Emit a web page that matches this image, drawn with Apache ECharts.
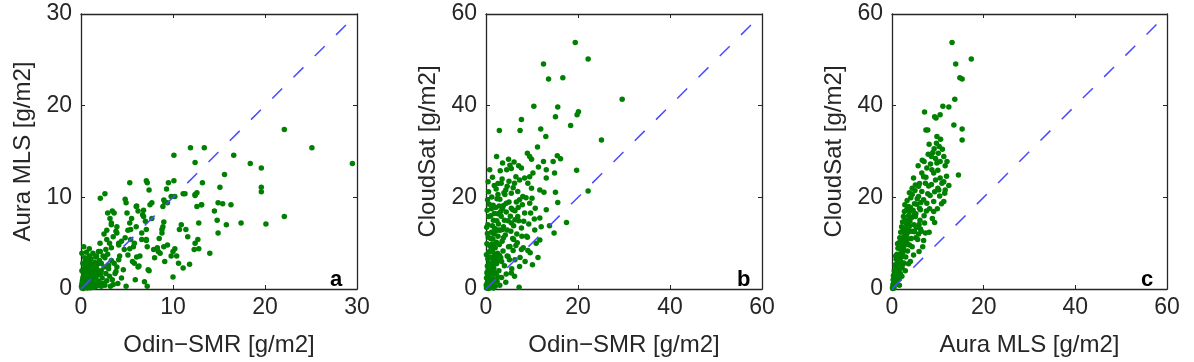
<!DOCTYPE html>
<html>
<head>
<meta charset="utf-8">
<script src="https://cdn.jsdelivr.net/npm/echarts@6/dist/echarts.min.js"></script>
<style>html,body{margin:0;padding:0;background:#fff}#chart{width:1194px;height:362px}</style>
</head>
<body>
<div id="chart"></div>
<script>
// Panel a: Odin-SMR (x) vs Aura MLS (y), g/m2
const pointsA = [
[29.5,13.7],[25.1,15.4],[22.1,17.4],[22.1,7.9],[20.1,7.1],[19.6,13.2],[19.6,11.1],[19.6,10.6],[18.4,13.7],[17.4,7.2],
[16.6,14.6],[16.3,9.2],[15.8,7.0],[15.6,12.5],[15.4,9.3],[15.1,11.1],[14.9,9.4],[14.8,7.5],[14.9,6.1],[14.5,8.5],
[14.0,3.9],[13.4,15.4],[13.2,11.6],[13.1,9.2],[12.8,7.2],[12.7,5.4],[12.8,4.4],[12.6,10.5],[12.6,9.0],[12.4,10.2],
[12.4,13.8],[11.9,15.4],[12.3,4.3],[11.8,2.7],[11.6,5.7],[11.4,6.5],[11.3,10.4],[11.1,10.4],[11.1,2.3],[10.9,7.0],
[10.7,6.5],[10.6,2.8],[10.4,3.6],[10.1,14.6],[10.1,11.8],[10.0,1.3],[10.0,4.1],[9.8,3.6],[9.8,10.1],[9.5,11.6],
[9.3,10.9],[9.4,9.4],[9.0,9.7],[8.9,9.0],[8.9,6.8],[8.8,6.1],[9.0,4.6],[9.4,4.8],[9.0,7.3],[8.8,6.5],
[8.6,3.9],[8.3,4.5],[8.0,3.4],[7.9,4.3],[7.7,9.4],[7.5,9.2],[7.4,10.8],[7.2,11.6],[7.1,11.8],[7.0,7.4],
[7.1,6.5],[7.1,5.4],[7.2,4.6],[7.4,2.0],[7.2,0.3],[6.9,0.8],[6.8,8.6],[6.7,8.1],[6.6,5.4],[6.4,3.6],
[6.3,2.5],[6.2,8.5],[6.0,9.0],[6.0,6.8],[5.8,5.0],[5.7,4.6],[5.8,2.8],[5.5,7.7],[5.3,11.6],[5.3,7.2],
[5.4,6.5],[5.4,5.4],[5.1,3.7],[4.9,9.4],[5.0,8.3],[4.8,5.6],[4.7,4.3],[4.9,0.3],[4.6,2.1],[4.4,5.2],
[4.2,3.6],[4.1,5.0],[3.9,6.8],[3.8,6.3],[3.6,8.3],[3.5,5.7],[3.4,8.5],[3.3,7.2],[3.3,4.5],[3.1,5.0],
[2.9,8.3],[2.8,5.4],[2.7,4.3],[2.6,10.4],[2.1,9.9],[2.4,3.6],[2.2,2.8],[2.6,0.4],[1.7,3.6],
[4.8,9.8],[6.05,9.05],[9.1,9.5],[10.2,10.1],[12.4,10.3],[13.1,9.2],[7.7,7.7],[6.8,7.9],[5.1,6.4],[3.9,6.1],
[3.15,7.7],[3.3,7.0],[2.8,6.4],[2.07,5.0],[1.9,4.1],[4.1,4.8],[5.3,4.4],[6.05,3.5],[7.1,5.3],[8.4,4.1],
[9.1,3.0],[10.2,4.4],[7.3,2.1],[5.9,1.0],[3.7,1.7],[3.0,2.6],[4.1,3.2],[6.2,2.4],[12.4,5.0],[5.6,3.0],
[4.4,1.2],[3.5,0.5],[8.5,5.5],[6.6,6.1],[2.5,6.0],[3.9,2.4],
[0.1,0.1],[0.2,0.3],[0.3,0.1],[0.4,0.5],[0.5,0.2],[0.6,0.8],[0.7,0.4],[0.8,1.1],[0.9,0.3],[1.0,0.7],
[1.1,1.4],[1.2,0.5],[1.3,1.0],[1.4,1.8],[1.5,0.6],[1.6,1.3],[1.7,2.2],[1.8,0.9],[1.9,1.6],[2.0,0.4],
[0.2,1.2],[0.3,2.0],[0.4,1.5],[0.5,2.6],[0.6,1.9],[0.7,3.1],[0.8,2.4],[0.9,3.6],[1.0,2.8],[1.1,3.3],
[0.1,0.6],[0.2,0.8],[0.3,1.6],[0.4,2.3],[0.5,3.0],[0.6,4.0],[0.3,4.6],[0.9,4.4],[1.2,2.5],[1.3,3.9],
[1.5,2.9],[1.6,3.5],[1.8,2.7],[2.0,3.1],[2.2,2.0],[2.3,1.2],[2.4,0.6],[2.5,2.4],[2.7,1.7],[2.8,0.9],
[3.0,2.2],[3.1,1.4],[3.2,0.3],[2.1,4.1],[2.6,3.4],[1.4,0.2],[1.7,0.5],[0.7,0.1],[0.05,0.3],[0.15,0.9],
[0.25,0.05],[0.35,0.7],[0.45,1.0],[0.55,1.3],[0.65,0.2],[0.75,1.6],[0.85,0.6],[0.95,1.9],[1.05,0.15],[1.15,2.1],
[1.25,1.2],[1.35,0.4],[1.45,2.3],[1.55,1.1],[1.65,0.3],[1.75,1.5],[1.85,2.0],[1.95,0.8],[2.1,1.6],[2.2,0.3],
[3.4,1.0],[3.6,2.8],[3.8,1.9],[4.0,0.6],[2.9,3.8],[3.3,3.1],[0.1,2.0],[0.2,2.8],[0.4,3.4],[0.1,3.9]
];

// Panel b: Odin-SMR (x) vs CloudSat (y), g/m2
const pointsB = [
[19.4,53.8],[22.2,50.2],[12.5,49.1],[13.6,45.8],[16.7,46.1],[29.6,41.4],[10.4,39.9],[15.6,39.7],[20.1,38.7],[19.8,38.0],
[15.1,37.6],[7.7,37.0],[18.4,35.7],[2.9,34.6],[7.4,34.6],[11.9,34.9],[13.0,33.3],[25.1,32.5],[11.2,31.0],[9.0,29.6],
[9.5,28.9],[15.5,29.1],[16.2,28.4],[14.6,27.8],[9.9,28.3],[12.5,27.8],[3.6,27.5],[5.2,27.0],[5.5,26.3],[7.1,26.9],
[7.7,26.4],[11.4,26.6],[13.1,26.0],[19.7,25.9],[14.9,25.3],[10.2,25.3],[9.5,24.5],[8.4,24.2],[7.3,23.8],[13.1,24.2],
[9.1,23.1],[4.6,22.4],[6.2,23.1],[9.9,22.0],[11.7,21.6],[12.6,21.1],[15.1,21.1],[22.2,21.4],[2.6,20.6],[4.1,20.6],
[5.5,20.9],[6.9,21.3],[7.3,19.5],[9.5,18.7],[10.7,17.6],[13.1,17.3],[15.6,18.9],[3.2,16.9],[4.4,18.7],[5.5,17.6],
[8.4,16.6],[9.7,16.6],[6.9,15.8],[11.7,15.5],[17.5,14.5],[13.8,13.8],[14.8,12.2],[10.6,12.9],[7.7,13.3],[5.5,14.4],
[2.2,12.9],[8.8,11.5],[11.7,10.7],[10.9,10.0],[9.1,8.4],[7.7,8.6],[11.3,6.9],[10.1,5.3],[7.3,4.9],[7.2,0.4],
[6.2,2.8],[5.5,3.5],[4.8,7.1],
[6.5,9.5],[7.8,11.5],[8.5,6.0],[9.6,7.9],[6.0,13.8],[7.0,17.8],[5.0,23.5],[8.0,20.2],[4.5,26.0],[6.5,24.5],
[3.5,24.0],[4.0,15.0],[5.8,11.0],[4.9,9.2],[6.3,6.4],[8.2,14.8],[10.0,19.8],[3.8,18.2],[6.6,19.0],[12.0,13.6],
[3.4,6.0],[4.4,3.3],[5.1,6.4],[5.9,8.4],[6.8,10.1],[7.4,6.9],[8.1,9.0],[9.0,11.3],[3.8,11.2],[4.6,12.9],
[5.3,15.9],[6.3,17.1],[7.1,14.9],[7.9,18.4],[8.7,19.9],[4.3,21.6],[5.9,22.1],[2.6,23.0],[3.1,25.8],[1.4,24.4],
[4.9,28.3],[6.1,27.7],[2.3,28.9],[0.8,26.0],[3.6,13.0],[2.4,19.7],[1.2,17.5],[6.7,12.0],[9.3,14.2],[10.5,15.3],
[0.1,0.2],[0.2,0.8],[0.3,1.5],[0.4,0.4],[0.5,2.2],[0.6,1.0],[0.7,3.0],[0.8,0.3],[0.9,1.8],[1.0,4.1],
[1.1,2.6],[1.2,0.9],[1.3,5.2],[1.4,3.4],[1.5,1.4],[1.6,6.3],[1.7,4.5],[1.8,2.1],[1.9,7.4],[2.0,0.6],
[0.2,3.6],[0.3,5.0],[0.4,6.6],[0.5,4.3],[0.6,8.1],[0.7,5.7],[0.8,9.5],[0.9,7.0],[1.0,11.0],[1.1,8.6],
[1.2,12.4],[1.3,9.8],[1.4,13.8],[1.5,10.9],[1.6,15.0],[1.7,12.0],[1.8,16.5],[1.9,13.2],[2.0,9.0],[2.1,17.8],
[0.1,7.5],[0.2,9.9],[0.3,12.1],[0.4,14.0],[0.5,11.3],[0.6,15.8],[0.15,13.5],[0.25,17.2],[0.7,18.5],[1.0,16.0],
[2.2,3.2],[2.3,5.5],[2.4,1.7],[2.5,7.8],[2.6,11.5],[2.7,14.2],[2.8,4.0],[2.9,9.7],[3.0,19.6],[3.1,12.8],
[3.2,6.8],[3.3,15.9],[3.4,2.5],[3.5,10.4],[3.6,17.5],[3.7,8.3],[3.8,13.6],[3.9,21.0],[4.0,5.1],[4.2,11.8],
[4.4,16.8],[4.6,7.2],[4.8,14.9],[5.0,19.0],[5.2,9.3],[5.4,12.6],[5.6,4.4],[5.8,17.3],[6.0,10.8],[6.3,15.1],
[0.05,0.9],[0.12,2.4],[0.22,0.4],[0.32,3.2],[0.42,1.9],[0.52,0.1],[0.62,2.9],[0.72,1.2],[0.82,4.6],[0.92,2.0],
[1.02,0.5],[1.12,3.8],[1.22,6.9],[1.32,2.4],[1.42,8.2],[1.52,4.9],[1.62,0.2],[1.72,9.3],[1.82,5.9],[1.92,3.5],
[2.05,12.6],[2.15,7.0],[2.25,10.2],[2.35,14.9],[2.45,6.1],[2.55,16.4],[2.65,2.6],[2.75,12.9],[2.85,18.1],[2.95,7.3],
[0.35,19.5],[0.55,21.2],[1.25,20.1],[1.55,18.3],[2.2,21.8],[0.45,23.4],[1.8,22.6],[3.3,23.1],[3.0,0.8],[4.3,1.5]
];

// Panel c: Aura MLS (x) vs CloudSat (y), g/m2
const pointsC = [
[13.1,53.8],[17.3,50.2],[13.9,49.1],[14.8,46.1],[15.3,45.8],[13.7,41.4],[11.1,39.9],[12.4,39.7],[7.1,38.6],[9.3,37.6],
[9.6,37.3],[10.5,38.0],[13.5,35.8],[15.3,34.9],[15.3,32.5],[7.4,34.7],[7.8,34.7],[9.8,33.3],[10.3,31.1],[8.9,29.8],
[8.6,28.9],[9.5,28.5],[11.3,28.9],[5.7,26.9],[6.5,25.3],[7.6,26.4],[8.7,26.0],[9.8,27.5],[10.5,27.8],[11.6,26.9],
[14.5,24.9],[4.7,24.2],[5.1,22.7],[6.9,24.5],[7.3,23.1],[9.1,25.3],[9.5,23.8],[10.5,24.2],[10.9,23.1],[11.3,23.4],
[10.2,21.6],[11.6,21.6],[2.8,18.4],[3.6,18.0],[4.4,20.6],[5.8,20.2],[6.5,21.3],[6.9,19.5],[7.6,18.7],[9.1,19.1],
[11.3,19.1],[9.1,16.9],[5.1,15.8],[6.2,17.3],[7.1,14.4],[9.3,14.5],[7.3,12.2],[6.7,9.2],[3.8,13.7],
[8.0,22.5],[6.0,23.0],[8.3,20.4],[10.0,25.9],[7.0,27.8],[5.4,18.5],[6.1,15.0],[4.9,12.5],[5.6,10.8],[8.2,17.5],
[4.8,16.2],[5.9,14.1],[6.4,12.6],[7.0,16.0],[7.8,20.8],[8.6,22.8],[9.3,21.2],[10.0,22.0],[10.4,20.3],[10.8,18.6],
[9.9,17.5],[8.8,15.4],[8.1,12.4],[6.9,10.6],[5.9,8.2],[4.7,7.4],[4.0,6.0],[5.2,11.2],[6.3,18.9],[7.4,24.4],
[8.4,27.3],[9.2,30.6],[10.1,29.6],[11.0,30.5],[10.6,32.7],[9.7,31.8],[8.1,31.6],[7.9,29.4],[6.6,28.1],[12.0,27.8],
[11.9,24.6],[12.4,22.6],[11.5,20.9],[6.2,13.1],[3.3,9.9],[2.4,5.4],[1.6,2.2],[4.4,9.2],[5.8,12.0],[7.5,17.0],
[0.1,0.3],[0.2,1.0],[0.3,0.5],[0.4,1.8],[0.5,0.9],[0.6,2.6],[0.7,1.5],[0.8,3.4],[0.9,2.2],[1.0,4.1],
[1.1,3.0],[1.2,5.0],[1.3,3.6],[1.4,5.9],[1.5,4.4],[1.6,6.8],[1.7,5.2],[1.8,7.7],[1.9,6.0],[2.0,8.6],
[2.1,7.0],[2.2,9.5],[2.3,7.8],[2.4,10.5],[2.5,8.6],[2.6,11.4],[2.7,9.5],[2.8,12.3],[2.9,10.4],[3.0,13.2],
[3.1,11.3],[3.2,14.1],[3.3,12.1],[3.4,15.0],[3.5,13.0],[3.6,16.0],[3.7,13.9],[3.8,16.9],[3.9,14.8],[4.0,17.8],
[0.3,2.9],[0.5,4.0],[0.7,5.3],[0.9,6.5],[1.1,7.6],[1.3,8.9],[1.5,10.1],[1.7,11.2],[1.9,12.4],[2.1,13.6],
[2.3,14.6],[2.5,15.8],[2.7,16.9],[1.0,1.2],[1.4,2.3],[1.8,3.4],[2.2,4.6],[2.6,5.7],[3.0,7.0],[3.4,8.3],
[3.8,9.6],[4.2,11.0],[4.5,12.6],[4.8,14.0],[4.3,15.6],[4.6,17.2],[4.9,18.6],[5.2,16.4],[5.5,19.7],[4.1,19.9],
[0.15,0.1],[0.25,2.0],[0.45,0.2],[0.55,3.3],[0.65,1.1],[0.85,4.6],[1.05,2.6],[1.25,6.2],[1.45,3.8],[1.65,7.5],
[1.85,5.0],[2.05,10.6],[2.45,12.8],[2.85,14.9],[3.25,17.4],[3.55,10.9],[3.95,12.6],[2.15,2.8],[1.2,9.9],[0.8,7.2],
[3.3,19.3],[3.8,21.0],[4.4,22.0],[5.0,21.5],[5.8,22.4],[6.0,17.6],[5.3,13.4],[3.6,5.5],[2.9,4.0],[1.6,0.8]
];

// 1:1 reference lines (start, end)
const diagA = [0, 29];
const diagBC = [0, 58];

// axis ticks
const ticksA = [0, 10, 20, 30];
const ticksBC = [0, 20, 40, 60];

const xNames = ['Odin\u2212SMR [g/m2]', 'Odin\u2212SMR [g/m2]', 'Aura MLS [g/m2]'];
const yNames = ['Aura MLS [g/m2]', 'CloudSat [g/m2]', 'CloudSat [g/m2]'];
const letters = ['a', 'b', 'c'];

const FONT = '"Liberation Sans", Arial, sans-serif';
const TXT = '#262626';
const FRAME = '#262626';

const panels = [
  { left: 81, width: 276, ticks: ticksA, pts: pointsA, diag: diagA, letterX: 330 },
  { left: 486, width: 276, ticks: ticksBC, pts: pointsB, diag: diagBC, letterX: 737 },
  { left: 892, width: 275, ticks: ticksBC, pts: pointsC, diag: diagBC, letterX: 1141 }
];

const grid = [], xAxis = [], yAxis = [], series = [], graphic = [];
panels.forEach((p, i) => {
  grid.push({ left: p.left, top: 14, width: p.width, height: 275, containLabel: false,
    show: false });
  const min = p.ticks[0], max = p.ticks[p.ticks.length - 1], interval = p.ticks[1] - p.ticks[0];
  const common = { type: 'value', min: min, max: max, interval: interval, gridIndex: i,
    splitLine: { show: false },
    axisLine: { show: true, onZero: false, lineStyle: { color: FRAME, width: 1.3 } },
    axisTick: { show: true, inside: true, length: 4, lineStyle: { color: FRAME, width: 1 } } };
  xAxis.push(Object.assign({}, common, { position: 'bottom',
    name: xNames[i], nameLocation: 'middle', nameGap: 44,
    nameTextStyle: { fontFamily: FONT, fontSize: 24, color: TXT },
    axisLabel: { fontFamily: FONT, fontSize: 23, color: TXT, margin: 7 } }));
  xAxis.push(Object.assign({}, common, { position: 'top', axisLabel: { show: false } }));
  yAxis.push(Object.assign({}, common, { position: 'left',
    name: yNames[i], nameLocation: 'middle', nameGap: 46,
    nameTextStyle: { fontFamily: FONT, fontSize: 24, color: TXT },
    axisLabel: { fontFamily: FONT, fontSize: 23, color: TXT, margin: 9 } }));
  yAxis.push(Object.assign({}, common, { position: 'right', axisLabel: { show: false } }));
  series.push({ type: 'scatter', xAxisIndex: 2 * i, yAxisIndex: 2 * i, data: p.pts,
    symbol: 'circle', symbolSize: 5.5, itemStyle: { color: '#008000', opacity: 1 }, z: 2,
    silent: true, animation: false });
  series.push({ type: 'line', xAxisIndex: 2 * i, yAxisIndex: 2 * i,
    data: [[p.diag[0], p.diag[0]], [p.diag[1], p.diag[1]]], symbol: 'none',
    lineStyle: { color: '#4b4bff', width: 1.5, type: [14, 16] }, z: 3,
    silent: true, animation: false });
  graphic.push({ type: 'text', left: p.letterX, top: 269, z: 10,
    style: { text: letters[i], font: 'bold 22px ' + FONT, fill: '#000' } });
});

const chart = echarts.init(document.getElementById('chart'), null, { renderer: 'canvas' });
chart.setOption({ animation: false, grid, xAxis, yAxis, series, graphic });
</script>
</body>
</html>
